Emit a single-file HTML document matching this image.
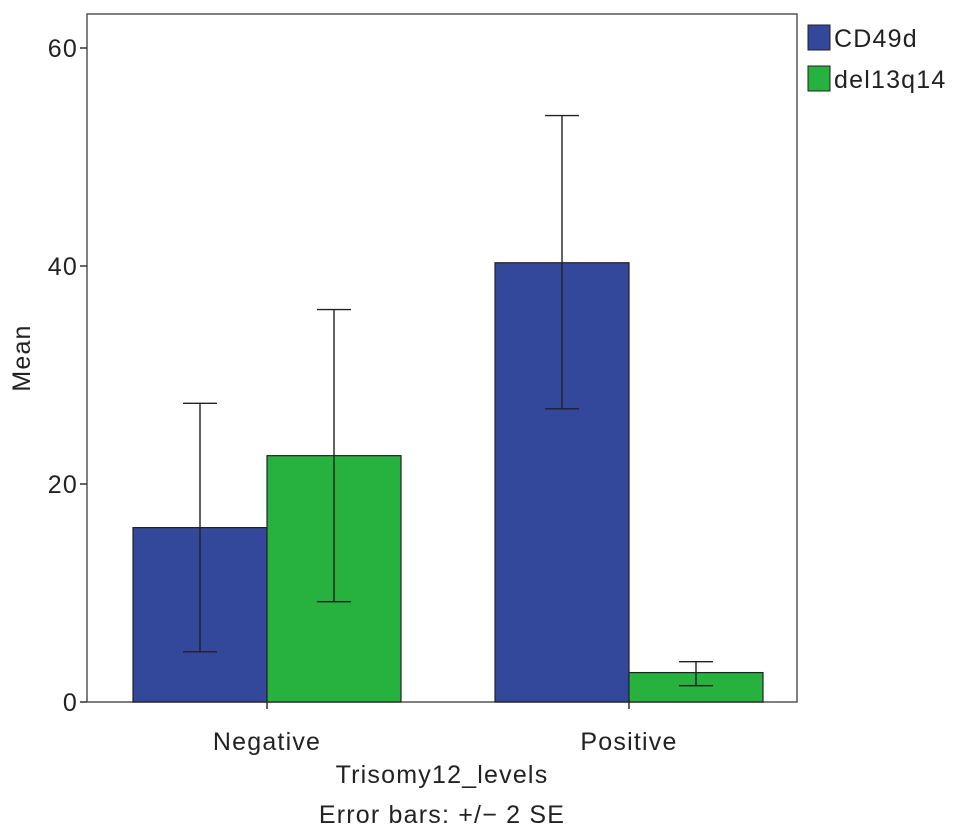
<!DOCTYPE html>
<html><head><meta charset="utf-8"><style>
html,body{margin:0;padding:0;background:#fff;}
svg{display:block;font-family:"Liberation Sans",Arial,sans-serif;}
svg text{letter-spacing:1.2px;}
</style></head><body>
<svg id="chart" width="969" height="838"></svg>
<script>
const categories = ["Negative", "Positive"];
const seriesNames = ["CD49d", "del13q14"];
const cd49dMeans = [16.0, 40.3];
const del13q14Means = [22.6, 2.7];
const cd49dLow = [4.6, 26.9];
const cd49dHigh = [27.4, 53.8];
const del13q14Low = [9.2, 1.5];
const del13q14High = [36.0, 3.7];
const yTicks = [0, 20, 40, 60];

const NS = "http://www.w3.org/2000/svg";
const svg = document.getElementById("chart");
const L = 87, R = 797, T = 14, B = 702;
const yScale = v => B - v * 10.9;
const groupCenters = [267, 629];
const barW = 134;
const colors = ["#33479b", "#27b13f"];
const means = [cd49dMeans, del13q14Means];
const lows = [cd49dLow, del13q14Low];
const highs = [cd49dHigh, del13q14High];
const FS = 25;

function mk(tag, attrs, text) {
  const e = document.createElementNS(NS, tag);
  for (const k in attrs) e.setAttribute(k, attrs[k]);
  if (text !== undefined) e.textContent = text;
  svg.appendChild(e);
  return e;
}

let e = mk("rect", {x: L, y: T, width: R - L, height: B - T, fill: "#fff", stroke: "#555", "stroke-width": 1.5});



yTicks.forEach(t => {
  const y = yScale(t);
  let l = mk("line", {x1: L - 7, x2: L, y1: y, y2: y, stroke: "#333", "stroke-width": 1.5});
  
  
  let tx = mk("text", {x: L - 9, y: y + 9, "text-anchor": "end", "font-size": FS, fill: "#222"}, String(t));
  
  
});

categories.forEach((c, i) => {
  const cx = groupCenters[i];
  let l = mk("line", {x1: cx, x2: cx, y1: B, y2: B + 7, stroke: "#333", "stroke-width": 1.5});
  
  
  let tx = mk("text", {x: cx, y: B + 48, "text-anchor": "middle", "font-size": FS, fill: "#222"}, c);
  
  
  for (let s = 0; s < 2; s++) {
    const x0 = cx - barW + s * barW;
    const v = means[s][i];
    let r = mk("rect", {x: x0, y: yScale(v), width: barW, height: B - yScale(v), fill: colors[s], stroke: "#222", "stroke-width": 1.2});
    
    
    const mx = x0 + barW / 2;
    const yl = yScale(lows[s][i]), yh = yScale(highs[s][i]);
    let g = mk("path", {d: `M${mx},${yl}V${yh}M${mx-17},${yl}H${mx+17}M${mx-17},${yh}H${mx+17}`, stroke: "#222", "stroke-width": 1.4, fill: "none"});
    
    
  }
});

let yt = mk("text", {x: 30, y: 358, "text-anchor": "middle", "font-size": FS, fill: "#222", transform: "rotate(-90 30 358)"}, "Mean");


let xt = mk("text", {x: 442, y: 783, "text-anchor": "middle", "font-size": FS, fill: "#222"}, "Trisomy12_levels");


let nt = mk("text", {x: 442, y: 823, "text-anchor": "middle", "font-size": FS, fill: "#222"}, "Error bars: +/\u2212 2 SE");



seriesNames.forEach((n, s) => {
  const y = 25 + s * 41;
  let sw = mk("rect", {x: 808, y: y, width: 22, height: 25, fill: colors[s], stroke: "#222", "stroke-width": 1});
  
  
  let lt = mk("text", {x: 834, y: y + 22, "font-size": FS, fill: "#222"}, n);
  
  
});
</script>
</body></html>
